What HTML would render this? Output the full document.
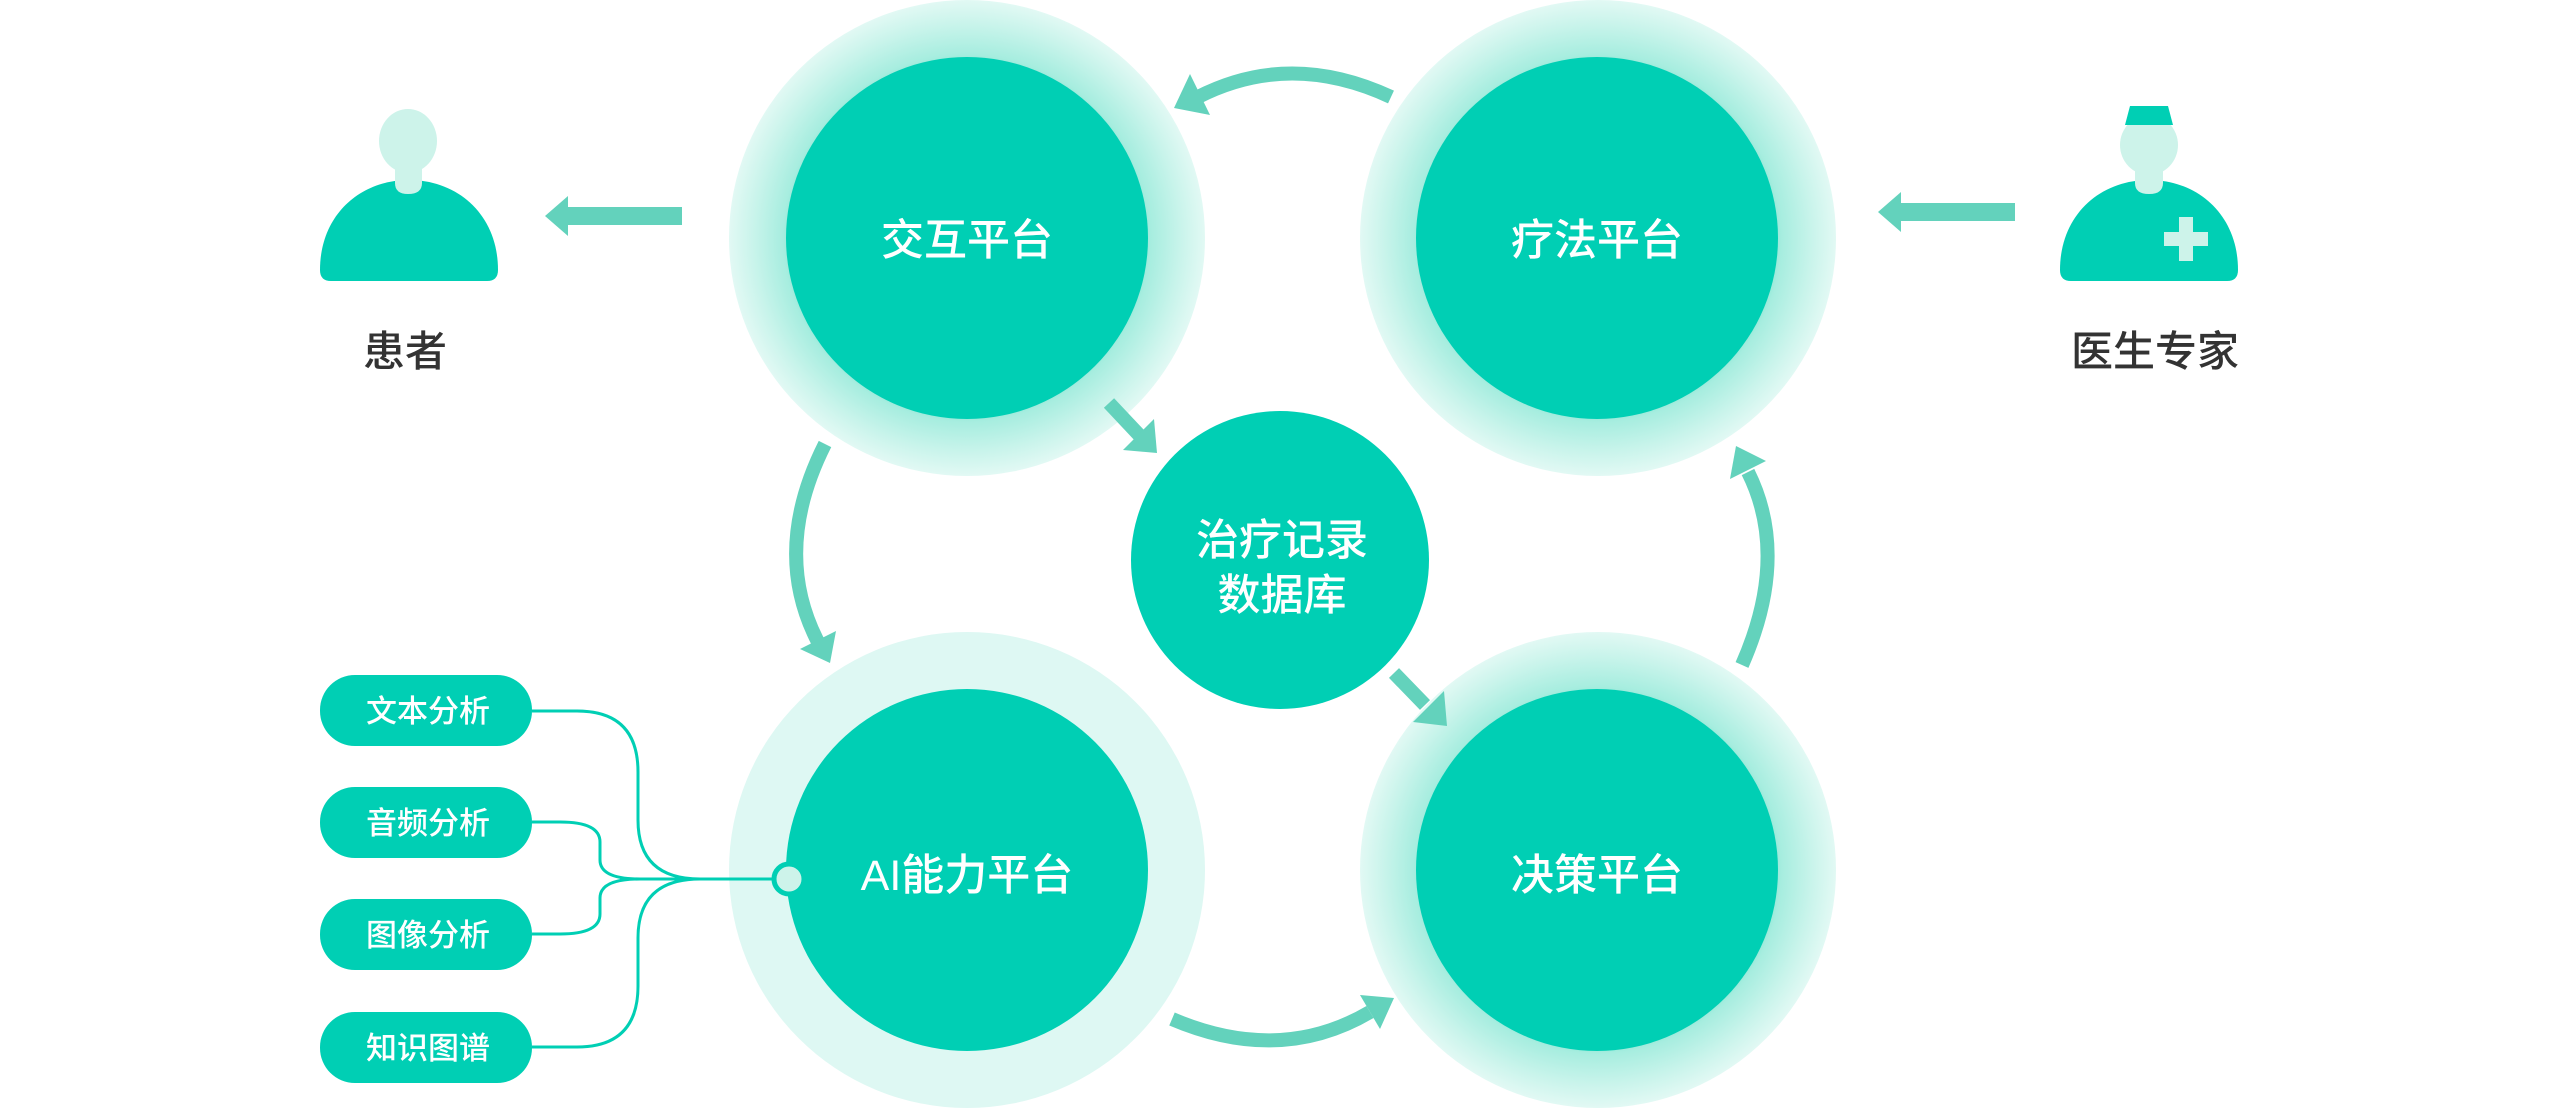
<!DOCTYPE html>
<html><head><meta charset="utf-8"><style>
html,body{margin:0;padding:0;background:#fff;}
svg{display:block;}
text{font-family:"Liberation Sans","Noto Sans CJK SC",sans-serif;font-weight:500;}
</style></head><body>
<svg width="2560" height="1108" viewBox="0 0 2560 1108" xmlns="http://www.w3.org/2000/svg">
<defs>
<radialGradient id="glow" cx="50%" cy="50%" r="50%">
<stop offset="0.74" stop-color="#8fe8d6"/>
<stop offset="0.77" stop-color="#a6eddf"/>
<stop offset="0.9" stop-color="#c9f4eb"/>
<stop offset="1" stop-color="#e2f9f4"/>
</radialGradient>
</defs>
<circle cx="967" cy="238" r="238" fill="url(#glow)"/>
<circle cx="1598" cy="238" r="238" fill="url(#glow)"/>
<circle cx="967" cy="870" r="238" fill="#def8f3"/>
<circle cx="1598" cy="870" r="238" fill="url(#glow)"/>
<circle cx="967" cy="238" r="181" fill="#00cfb4"/>
<circle cx="1597" cy="238" r="181" fill="#00cfb4"/>
<circle cx="967" cy="870" r="181" fill="#00cfb4"/>
<circle cx="1597" cy="870" r="181" fill="#00cfb4"/>
<circle cx="1280" cy="560" r="149" fill="#00cfb4"/>
<g fill="#fff" font-size="43" text-anchor="middle">
<text x="967" y="255">交互平台</text>
<text x="1597" y="255">疗法平台</text>
<text x="967" y="890">AI能力平台</text>
<text x="1597" y="890">决策平台</text>
<text x="1282" y="555">治疗记录</text>
<text x="1282" y="610">数据库</text>
</g>
<g fill="none" stroke="#63d2bc" stroke-width="14">
<path d="M1391,97 Q1290,50 1198,97"/>
<path d="M825,444 Q771,551 818,642"/>
<path d="M1742,665 Q1790,556 1748,472"/>
<path d="M1172,1019 Q1280,1065 1370,1012"/>
<path d="M1109,403 L1140,436"/>
<path d="M1394,673 L1425,705"/>
</g>
<g fill="#63d2bc">
<polygon points="1174,108 1190,74 1210,115"/>
<polygon points="830,663 836,631 800,649"/>
<polygon points="1736,446 1766,461 1730,479"/>
<polygon points="1394,998 1380,1029 1360,995"/>
<polygon points="1157,453 1123,450 1154,419"/>
<polygon points="1447,726 1413,722 1444,691"/>
<rect x="566" y="207" width="116" height="18"/>
<polygon points="545,216 568,196 568,236"/>
<rect x="1900" y="203" width="115" height="18"/>
<polygon points="1878,212 1901,192 1901,232"/>
</g>
<path d="M320,270 C320,215 360,180 409,180 C458,180 498,215 498,270 Q498,281 487,281 L331,281 Q320,281 320,270 Z" fill="#00cfb4"/>
<ellipse cx="408" cy="141" rx="29" ry="32" fill="#cdf3ea"/>
<path d="M395,160 L422,160 L422,183 Q422,194 408,194 Q395,194 395,183 Z" fill="#cdf3ea"/>
<text x="405" y="366" font-size="42" fill="#333" text-anchor="middle">患者</text>
<path d="M2060,270 C2060,215 2100,180 2149,180 C2198,180 2238,215 2238,270 Q2238,281 2227,281 L2071,281 Q2060,281 2060,270 Z" fill="#00cfb4"/>
<ellipse cx="2149" cy="145" rx="29" ry="30" fill="#cdf3ea"/>
<path d="M2135,160 L2163,160 L2163,183 Q2163,194 2149,194 Q2135,194 2135,183 Z" fill="#cdf3ea"/>
<polygon points="2130,106 2168,106 2173,125 2125,125" fill="#00cfb4"/>
<rect x="2164" y="232" width="44" height="14" fill="#cdf3ea"/>
<rect x="2179" y="217" width="14" height="44" fill="#cdf3ea"/>
<text x="2155" y="366" font-size="42" fill="#333" text-anchor="middle">医生专家</text>
<g fill="#00cfb4">
<rect x="320" y="675" width="212" height="71" rx="35"/>
<rect x="320" y="787" width="212" height="71" rx="35"/>
<rect x="320" y="899" width="212" height="71" rx="35"/>
<rect x="320" y="1012" width="212" height="71" rx="35"/>
</g>
<g fill="#fff" font-size="31" text-anchor="middle">
<text x="428" y="722">文本分析</text>
<text x="428" y="834">音频分析</text>
<text x="428" y="946">图像分析</text>
<text x="428" y="1059">知识图谱</text>
</g>
<g fill="none" stroke="#00cfb4" stroke-width="3">
<path d="M532,711 L577,711 Q638,711 638,772 L638,820 Q638,879 700,879"/>
<path d="M532,1047 L577,1047 Q638,1047 638,986 L638,938 Q638,879 700,879"/>
<path d="M532,822 L560,822 Q600,822 600,842 L600,860 Q600,879 640,879"/>
<path d="M532,934 L560,934 Q600,934 600,914 L600,898 Q600,879 640,879"/>
<path d="M620,879 L775,879"/>
</g>
<circle cx="789" cy="879" r="15" fill="#cdf3ea" stroke="#00cfb4" stroke-width="5"/>
</svg>
</body></html>
